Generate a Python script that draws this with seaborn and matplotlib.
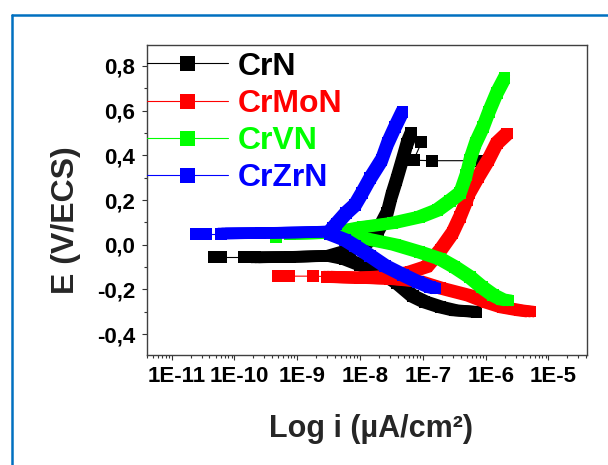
import numpy as np
import seaborn as sns
import matplotlib.pyplot as plt
from matplotlib import ticker
from matplotlib import patheffects as pe
from matplotlib.lines import Line2D
from matplotlib.transforms import ScaledTranslation

# ---- data (i in uA/cm2, E in V/ECS) ----
names = ['CrN', 'CrMoN', 'CrVN', 'CrZrN']
colors = ['#000000', '#ff0000', '#00ff00', '#0000ff']

# CrN
crn_tail_i = [4.7e-11, 6.2e-11, 1.4e-10, 2.1e-10]
crn_tail_E = [-0.057, -0.057, -0.057, -0.057]
crn_an_i = [2.1e-10, 7.6e-10, 3.3e-9, 6.9e-9, 1.1e-8, 1.55e-8, 1.95e-8, 2.7e-8,
            3.16e-8, 3.8e-8, 4.7e-8, 5.6e-8, 6.5e-8]
crn_an_E = [-0.057, -0.055, -0.05, -0.024, -0.006, 0.03, 0.066, 0.142,
            0.218, 0.29, 0.379, 0.454, 0.498]
crn_ca_i = [3.3e-9, 5.8e-9, 1.0e-8, 2.1e-8, 3.9e-8, 6.9e-8, 1.07e-7, 1.9e-7, 3.2e-7, 7.1e-7]
crn_ca_E = [-0.05, -0.064, -0.09, -0.122, -0.171, -0.23, -0.256, -0.279, -0.294, -0.301]
crn_end_i = [6.5e-8, 9.5e-8, 7.1e-8, 1.4e-7, 8.3e-7]
crn_end_E = [0.498, 0.458, 0.378, 0.376, 0.376]

# CrMoN
crmon_tail_i = [5.0e-10, 7.4e-10, 1.8e-9, 3.0e-9]
crmon_tail_E = [-0.141, -0.141, -0.141, -0.143]
crmon_an_i = [3.0e-9, 1.0e-8, 3.0e-8, 6.3e-8, 1.15e-7, 1.9e-7, 2.95e-7, 3.9e-7,
              5.0e-7, 5.4e-7, 7.6e-7, 1.1e-6, 1.5e-6, 2.2e-6]
crmon_an_E = [-0.143, -0.147, -0.14, -0.122, -0.098, -0.024, 0.052, 0.125,
              0.2, 0.23, 0.304, 0.379, 0.454, 0.498]
crmon_ca_i = [3.0e-9, 1.0e-8, 3.0e-8, 8.9e-8, 1.9e-7, 5.6e-7, 1.05e-6, 1.9e-6, 3.5e-6, 5.2e-6]
crmon_ca_E = [-0.145, -0.149, -0.153, -0.165, -0.194, -0.228, -0.258, -0.281, -0.294, -0.30]

# CrVN
crvn_tail_i = [4.6e-10, 7.6e-10]
crvn_tail_E = [0.036, 0.048]
crvn_an_i = [7.6e-10, 3.3e-9, 1.1e-8, 3.3e-8, 8.9e-8, 1.7e-7, 2.7e-7, 3.9e-7,
             4.9e-7, 5.6e-7, 6.9e-7, 9.1e-7, 1.12e-6, 1.5e-6, 2.0e-6]
crvn_an_E = [0.048, 0.052, 0.079, 0.097, 0.124, 0.155, 0.196, 0.231,
             0.312, 0.379, 0.455, 0.527, 0.594, 0.679, 0.746]
crvn_ca_i = [3.3e-9, 1.1e-8, 3.6e-8, 8.9e-8, 1.9e-7, 3.2e-7, 5.6e-7, 8.7e-7, 1.3e-6, 1.8e-6, 2.3e-6]
crvn_ca_E = [0.052, 0.03, 0.0, -0.033, -0.064, -0.1, -0.145, -0.19, -0.225, -0.245, -0.25]

# CrZrN
crzrn_tail_i = [2.4e-11, 3.5e-11, 6.2e-11]
crzrn_tail_E = [0.05, 0.05, 0.05]
crzrn_an_i = [6.2e-11, 2.6e-10, 1.1e-9, 3.3e-9, 3.7e-9, 4.2e-9, 6.0e-9, 8.3e-9,
              1.07e-8, 1.45e-8, 2.2e-8, 2.75e-8, 3.6e-8, 4.7e-8]
crzrn_an_E = [0.05, 0.052, 0.055, 0.059, 0.075, 0.093, 0.142, 0.178,
              0.231, 0.298, 0.379, 0.455, 0.527, 0.594]
crzrn_ca_i = [3.3e-9, 5.8e-9, 8.3e-9, 1.45e-8, 2.5e-8, 4.8e-8, 8.3e-8, 1.3e-7, 1.6e-7]
crzrn_ca_E = [0.048, 0.021, -0.006, -0.05, -0.095, -0.135, -0.167, -0.19, -0.196]

series = [
    (crn_tail_i, crn_tail_E, [(crn_an_i, crn_an_E), (crn_ca_i, crn_ca_E)], [(crn_end_i, crn_end_E)]),
    (crmon_tail_i, crmon_tail_E, [(crmon_an_i, crmon_an_E), (crmon_ca_i, crmon_ca_E)], []),
    (crvn_tail_i, crvn_tail_E, [(crvn_an_i, crvn_an_E), (crvn_ca_i, crvn_ca_E)], []),
    (crzrn_tail_i, crzrn_tail_E, [(crzrn_an_i, crzrn_an_E), (crzrn_ca_i, crzrn_ca_E)], []),
]

# ---- style ----
sns.set_style("ticks")
plt.rcParams['font.family'] = ['Liberation Sans', 'DejaVu Sans']
plt.rcParams['font.weight'] = 'bold'

fig = plt.figure(figsize=(6.08, 4.65), dpi=100)
ax = fig.add_axes([146.7 / 608, 1 - 355 / 465, 440.6 / 608, 310 / 465])
ax.set_xscale('log')

sq = 8.3     # pt, side of the square markers
core = 2.9   # pt, core stroke of the dense band
half = (sq - core) / 2
# dense runs of square markers: sweep a thin stroke over a 3x3 grid of offsets
sweep = [pe.Stroke(offset=(dx, dy)) for dx in (-half, 0, half) for dy in (-half, 0, half)]


def draw(x, y, color, dense):
    if dense:
        sns.lineplot(x=x, y=y, sort=False, estimator=None, color=color,
                     marker='s', markersize=core, markeredgewidth=0, ax=ax)
        line = ax.lines[-1]
        line.set_linewidth(core)
        line.set_solid_capstyle('butt')
        line.set_solid_joinstyle('round')
        line.set_path_effects(sweep)
    else:
        sns.lineplot(x=x, y=y, sort=False, estimator=None, color=color,
                     marker='s', markersize=sq, markeredgewidth=0, ax=ax)
        ax.lines[-1].set_linewidth(0.8)


for color, (ti, tE, branches, extras) in zip(colors, series):
    draw(ti, tE, color, False)
    for bi, bE in branches:
        draw(bi, bE, color, True)
    for ei, eE in extras:
        draw(ei, eE, color, False)

ax.set_xlim(4.0e-12, 4.15e-5)
ax.set_ylim(-0.494, 0.894)

ax.xaxis.set_major_locator(ticker.LogLocator(base=10, numticks=20))
ax.xaxis.set_minor_locator(ticker.LogLocator(base=10, subs=np.arange(2, 10), numticks=20))
ax.xaxis.set_major_formatter(ticker.FuncFormatter(lambda v, p: f"1E{int(np.round(np.log10(v)))}"))
ax.xaxis.set_minor_formatter(ticker.NullFormatter())
ax.yaxis.set_major_locator(ticker.MultipleLocator(0.2))
ax.yaxis.set_minor_locator(ticker.MultipleLocator(0.1))
ax.yaxis.set_major_formatter(ticker.FuncFormatter(lambda v, p: f"{v:.1f}".replace('.', ',')))

ax.tick_params(which='both', direction='out', width=0.8, colors='#333333',
               top=False, right=False)
ax.tick_params(which='major', length=3.6, labelsize=16, labelcolor='black')
ax.tick_params(which='minor', length=2.0)
ax.tick_params(axis='x', which='major', pad=4.5)
ax.tick_params(axis='y', which='major', pad=4.5)
for lab in ax.get_xticklabels():
    lab.set_transform(lab.get_transform() + ScaledTranslation(5.0 / 100, 0, fig.dpi_scale_trans))
for sp in ax.spines.values():
    sp.set_color('#404040')
    sp.set_linewidth(1.0)

ax.set_xlabel('Log i (µA/cm²)', fontsize=22, fontweight='bold')
ax.set_ylabel('E (V/ECS)', fontsize=23, fontweight='bold')
ax.xaxis.set_label_coords(0.508, -0.19)
ax.yaxis.set_label_coords(-0.149, 0.434)

handles = [Line2D([], [], color=c, linewidth=0.8, marker='s', markersize=10.8, markeredgewidth=0)
           for c in colors]
ax.legend(handles, names, loc='upper left', bbox_to_anchor=(0, 0.979), frameon=False,
          borderpad=0, borderaxespad=0, handlelength=2.54, handletextpad=0.31,
          labelspacing=0.225, prop={'size': 23, 'weight': 'bold'}, labelcolor='linecolor')

# blue frame around the figure (top and left edges)
fig.add_artist(Line2D([12 / 608, 1], [1 - 15 / 465] * 2, transform=fig.transFigure,
                      color='#0070c0', linewidth=1.8))
fig.add_artist(Line2D([12 / 608] * 2, [0, 1 - 15 / 465], transform=fig.transFigure,
                      color='#0070c0', linewidth=1.8))

fig.savefig('out.png', dpi=100)
